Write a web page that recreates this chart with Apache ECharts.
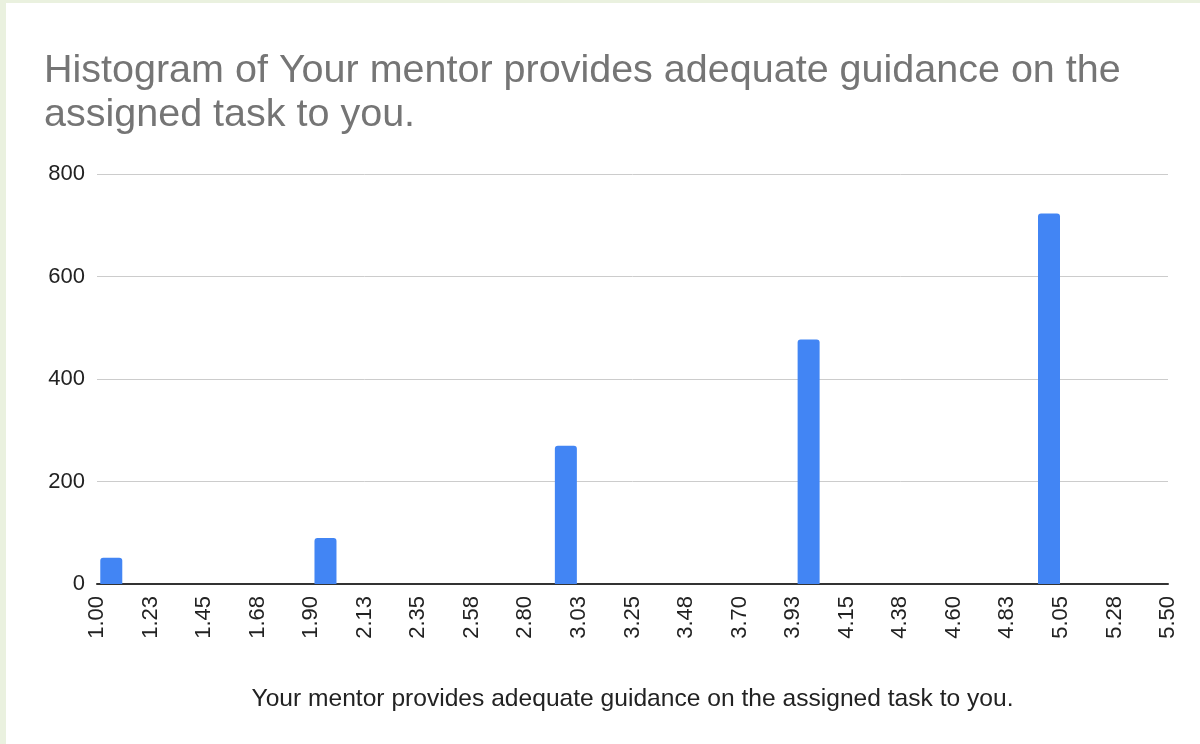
<!DOCTYPE html>
<html>
<head>
<meta charset="utf-8">
<script src="https://cdn.jsdelivr.net/npm/echarts@6/dist/echarts.min.js"></script>
<style>
    html, body {margin: 0; padding: 0; background: #eaf1df;}
    #histChart {position: absolute; left: 6px; top: 3px; width: 1194px; height: 741px; background: #fff;}
</style>
</head>
<body>
<div id="histChart"></div>
<script>
// histogram data
var barPositions = [1.06, 1.96, 2.97, 3.99, 5.00];
var barCounts = [51, 90, 270, 477, 723];
var xTickValues = [1, 1.225, 1.45, 1.675, 1.9, 2.125, 2.35, 2.575, 2.8, 3.025, 3.25,
    3.475, 3.7, 3.925, 4.15, 4.375, 4.6, 4.825, 5.05, 5.275, 5.5];
var xTickLabels = ['1.00', '1.23', '1.45', '1.68', '1.90', '2.13', '2.35', '2.58', '2.80', '3.03', '3.25',
    '3.48', '3.70', '3.93', '4.15', '4.38', '4.60', '4.83', '5.05', '5.28', '5.50'];
var titleText = 'Histogram of Your mentor provides adequate guidance on the\nassigned task to you.';
var axisTitle = 'Your mentor provides adequate guidance on the assigned task to you.';

var chart = echarts.init(document.getElementById('histChart'));

var seriesData = [];
for (var i = 0; i < barPositions.length; i++) {
    seriesData.push([barPositions[i], barCounts[i]]);
}

var option = {
    animation: false,
    textStyle: {fontFamily: 'Liberation Sans, Arial, sans-serif'},
    title: {
        text: titleText,
        left: 33,
        top: 41,
        textStyle: {fontSize: 39.5, fontWeight: 'normal', color: '#757575', lineHeight: 44}
    },
    grid: {left: 91, right: 32, top: 171, bottom: 160},
    xAxis: {
        type: 'value',
        min: 1,
        max: 5.5,
        name: axisTitle,
        nameLocation: 'middle',
        nameGap: 103,
        nameTextStyle: {fontSize: 24.6, color: '#222'},
        axisLine: {show: true, lineStyle: {color: '#333', width: 2}},
        axisTick: {show: false},
        splitLine: {show: false},
        axisLabel: {
            customValues: xTickValues,
            rotate: 90,
            fontSize: 22,
            color: '#222',
            margin: 12,
            formatter: function (val) {
                var idx = 0;
                for (var k = 0; k < xTickValues.length; k++) {
                    if (Math.abs(xTickValues[k] - val) < 1e-6) idx = k;
                }
                return xTickLabels[idx];
            }
        }
    },
    yAxis: {
        type: 'value',
        min: 0,
        max: 800,
        interval: 200,
        axisLine: {show: false},
        axisTick: {show: false},
        axisLabel: {fontSize: 22, color: '#222', margin: 12},
        splitLine: {lineStyle: {color: '#cccccc', width: 1}}
    },
    series: [{
        type: 'bar',
        data: seriesData,
        barWidth: 22,
        itemStyle: {color: '#4285f4', borderRadius: [3, 3, 0, 0]}
    }]
};
chart.setOption(option);
</script>
</body>
</html>
